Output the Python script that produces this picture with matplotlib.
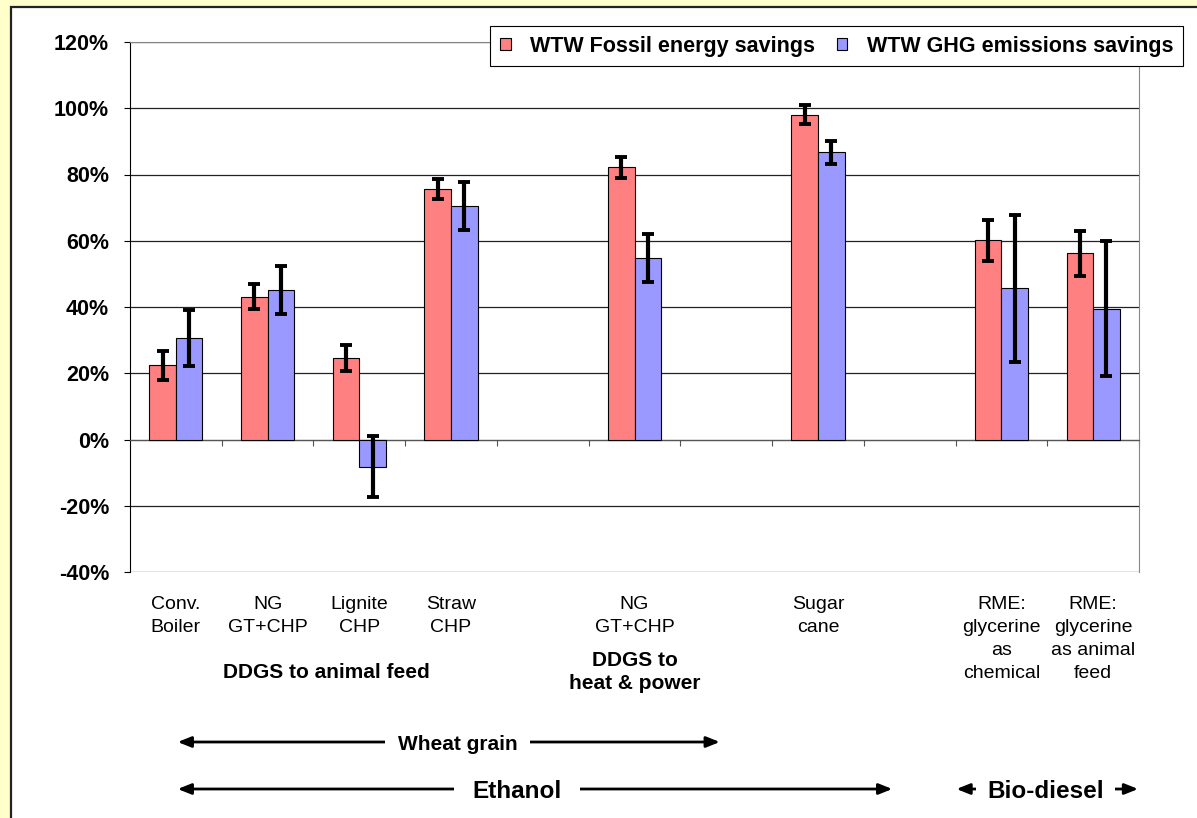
import numpy as np
import matplotlib
matplotlib.use("Agg")
import matplotlib.pyplot as plt
from matplotlib.patches import Rectangle, Patch
from matplotlib.transforms import blended_transform_factory

plt.rcParams['font.family'] = ['Liberation Sans', 'DejaVu Sans']

# Pathways (empty strings are spacer slots between groups)
categories = ["Conv.\nBoiler", "NG\nGT+CHP", "Lignite\nCHP", "Straw\nCHP", "",
              "NG\nGT+CHP", "", "Sugar\ncane", "",
              "RME:\nglycerine\nas\nchemical", "RME:\nglycerine\nas animal\nfeed"]

nan = np.nan
fossil_savings = [22.4, 43.1, 24.5, 75.7, nan, 82.2, nan, 98.1, nan, 60.2, 56.2]
fossil_err = [4.4, 3.8, 3.9, 3.0, nan, 3.2, nan, 2.9, nan, 6.2, 6.7]
ghg_savings = [30.6, 45.2, -8.2, 70.4, nan, 54.8, nan, 86.7, nan, 45.6, 39.5]
ghg_err = [8.4, 7.3, 9.2, 7.2, nan, 7.3, nan, 3.4, nan, 22.2, 20.4]

series_names = ["WTW Fossil energy savings", "WTW GHG emissions savings"]
y_ticks = [-40, -20, 0, 20, 40, 60, 80, 100, 120]

RED = "#FF8080"
BLUE = "#9999FF"
W, H = 1197, 818

fig = plt.figure(figsize=(W / 100, H / 100), dpi=100, facecolor="#FFFFCC")

# white panel with a dark frame on the left/top
fig.patches.append(Rectangle((11 / W, -0.1), 1.2, 1 - 7 / H + 0.1,
                             transform=fig.transFigure, facecolor="white",
                             edgecolor="#222222", linewidth=1.6, zorder=-5))

ax = fig.add_axes([130 / W, 1 - 572 / H, (1139 - 130) / W, (572 - 42) / H])
ax.set_facecolor("none")
ax.set_zorder(2)

x = np.arange(len(categories))
bw = 0.29
f = np.array(fossil_savings) / 100
fe = np.array(fossil_err) / 100
g = np.array(ghg_savings) / 100
ge = np.array(ghg_err) / 100

err_kw = dict(ecolor="black", elinewidth=3.0, capsize=4.2, capthick=2.8)
ax.bar(x - bw / 2, f, bw, color=RED, edgecolor="black", linewidth=0.8,
       yerr=fe, error_kw=err_kw, zorder=3)
ax.bar(x + bw / 2, g, bw, color=BLUE, edgecolor="black", linewidth=0.8,
       yerr=ge, error_kw=err_kw, zorder=3)

ax.set_xlim(-0.5, len(categories) - 0.5)
ax.set_ylim(-0.4, 1.2)
ax.set_yticks([t / 100 for t in y_ticks])
ax.set_yticklabels([f"{t}%" for t in y_ticks], fontsize=15.5, fontweight="bold")
ax.yaxis.grid(True, color="#222222", linewidth=0.9, zorder=1)
ax.set_axisbelow(True)
ax.tick_params(axis="y", direction="out", length=4, width=0.8, pad=11,
               colors="black")

# category axis crosses at zero with ticks between categories
ax.spines["bottom"].set_position(("data", 0))
ax.spines["bottom"].set_color("#555555")
ax.spines["bottom"].set_linewidth(0.8)
ax.set_xticks(np.arange(len(categories)) + 0.5)
ax.set_xticklabels([])
ax.tick_params(axis="x", direction="out", length=4.5, width=0.8, colors="#555555")
ax.spines["left"].set_color("black")
ax.spines["left"].set_linewidth(0.8)
for s in ("top", "right"):
    ax.spines[s].set_color("#888888")
    ax.spines[s].set_linewidth(0.8)

bt = blended_transform_factory(ax.transData, fig.transFigure)


def fy(py):
    return 1 - py / H


for xi, lab in zip(x, categories):
    if lab:
        ax.text(xi, fy(596), lab, transform=bt, ha="center", va="top",
                fontsize=14, linespacing=1.45)

ax.text(1.64, fy(673), "DDGS to animal feed", transform=bt, ha="center",
        va="center", fontsize=15, fontweight="bold")
ax.text(5, fy(672), "DDGS to\nheat & power", transform=bt, ha="center",
        va="center", fontsize=15, fontweight="bold", linespacing=1.25)

# group arrows
arrow_kw = dict(arrowstyle="<|-|>,head_length=0.8,head_width=0.32",
                color="black", linewidth=2.0, shrinkA=0, shrinkB=0)


def span(x0, x1, py, label, xtext, size, pad):
    ax.annotate("", xy=(x1, fy(py)), xytext=(x0, fy(py)), xycoords=bt,
                textcoords=bt, arrowprops=arrow_kw, annotation_clip=False)
    ax.text(xtext, fy(py + 2), label, transform=bt, ha="center", va="center",
            fontsize=size, fontweight="bold", zorder=5,
            bbox=dict(facecolor="white", edgecolor="none", pad=pad))


span(0.02, 5.93, 742, "Wheat grain", 3.07, 15, 9)
span(0.02, 7.81, 789, "Ethanol", 3.72, 17.5, 13)
span(8.51, 10.49, 789, "Bio-diesel", 9.48, 17.5, 8)

handles = [Patch(facecolor=RED, edgecolor="black", linewidth=0.8),
           Patch(facecolor=BLUE, edgecolor="black", linewidth=0.8)]
leg = fig.legend(handles, series_names, loc="upper right",
                 bbox_to_anchor=(1183 / W, 1 - 26 / H),
                 bbox_transform=fig.transFigure, ncol=2, frameon=True,
                 fancybox=False, edgecolor="black", framealpha=1,
                 prop=dict(size=15.5, weight="bold"), handlelength=0.5,
                 handleheight=0.5, handletextpad=0.9, columnspacing=1.0,
                 borderpad=0.45, borderaxespad=0)
leg.get_frame().set_linewidth(0.8)
leg.set_zorder(10)

fig.savefig("out.png", dpi=100, facecolor=fig.get_facecolor())
